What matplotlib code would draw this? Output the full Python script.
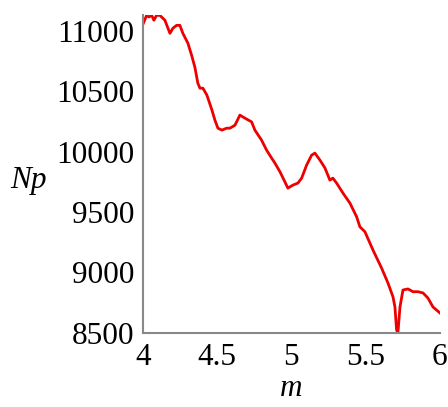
import matplotlib
matplotlib.use("Agg")
from matplotlib import pyplot as plt

# values
m = [4.002, 4.025, 4.040, 4.059, 4.074, 4.092, 4.114, 4.148, 4.182, 4.202,
     4.227, 4.249, 4.269, 4.303, 4.328, 4.350, 4.370, 4.384, 4.404, 4.431,
     4.465, 4.485, 4.505, 4.532, 4.564, 4.586, 4.620, 4.653, 4.687, 4.732,
     4.754, 4.799, 4.833, 4.867, 4.889, 4.923, 4.956, 4.976, 5.010, 5.044,
     5.069, 5.102, 5.136, 5.158, 5.192, 5.226, 5.259, 5.279, 5.304, 5.347,
     5.394, 5.439, 5.461, 5.495, 5.549, 5.607, 5.650, 5.684, 5.697, 5.708,
     5.717, 5.731, 5.751, 5.785, 5.818, 5.852, 5.886, 5.919, 5.953, 6.0]
Np = [11059, 11128, 11114, 11128, 11087, 11128, 11128, 11087, 10979, 11021,
      11045, 11045, 10979, 10897, 10797, 10698, 10566, 10525, 10525, 10467,
      10343, 10260, 10194, 10178, 10194, 10194, 10219, 10302, 10277, 10246,
      10178, 10095, 10012, 9946, 9905, 9833, 9750, 9698, 9723, 9740,
      9781, 9888, 9971, 9988, 9930, 9864, 9764, 9781, 9740, 9657,
      9574, 9461, 9378, 9337, 9186, 9037, 8913, 8798, 8715, 8525,
      8500, 8715, 8855, 8864, 8841, 8841, 8831, 8789, 8715, 8665]

xticks = [4, 4.5, 5, 5.5, 6]
xlabels = ["4", "4.5", "5", "5.5", "6"]
yticks = [8500, 9000, 9500, 10000, 10500, 11000]

plt.rcParams['font.family'] = ['Liberation Serif', 'DejaVu Serif']

fig = plt.figure(figsize=(4.48, 4.07), dpi=100)
ax = fig.add_axes([0.319, 0.182, 0.663, 0.781])

ax.plot(m, Np, color='#ee0000', lw=2)

ax.set_xlim(4, 6)
ax.set_ylim(8500, 11130)
ax.set_xticks(xticks)
ax.set_xticklabels(xlabels)
ax.set_yticks(yticks)
ax.tick_params(length=0, labelsize=22.5, pad=6)
ax.tick_params(axis='x', pad=7)

for s in ['top', 'right']:
    ax.spines[s].set_visible(False)
for s in ['left', 'bottom']:
    ax.spines[s].set_color('#888888')
    ax.spines[s].set_linewidth(1.5)

ax.set_xlabel('m', fontsize=22.5, style='italic', labelpad=2)
fig.text(28/448, 1 - 181/407, 'Np', fontsize=22.5, style='italic',
         ha='center', va='center')

fig.savefig('out.png', dpi=100)
